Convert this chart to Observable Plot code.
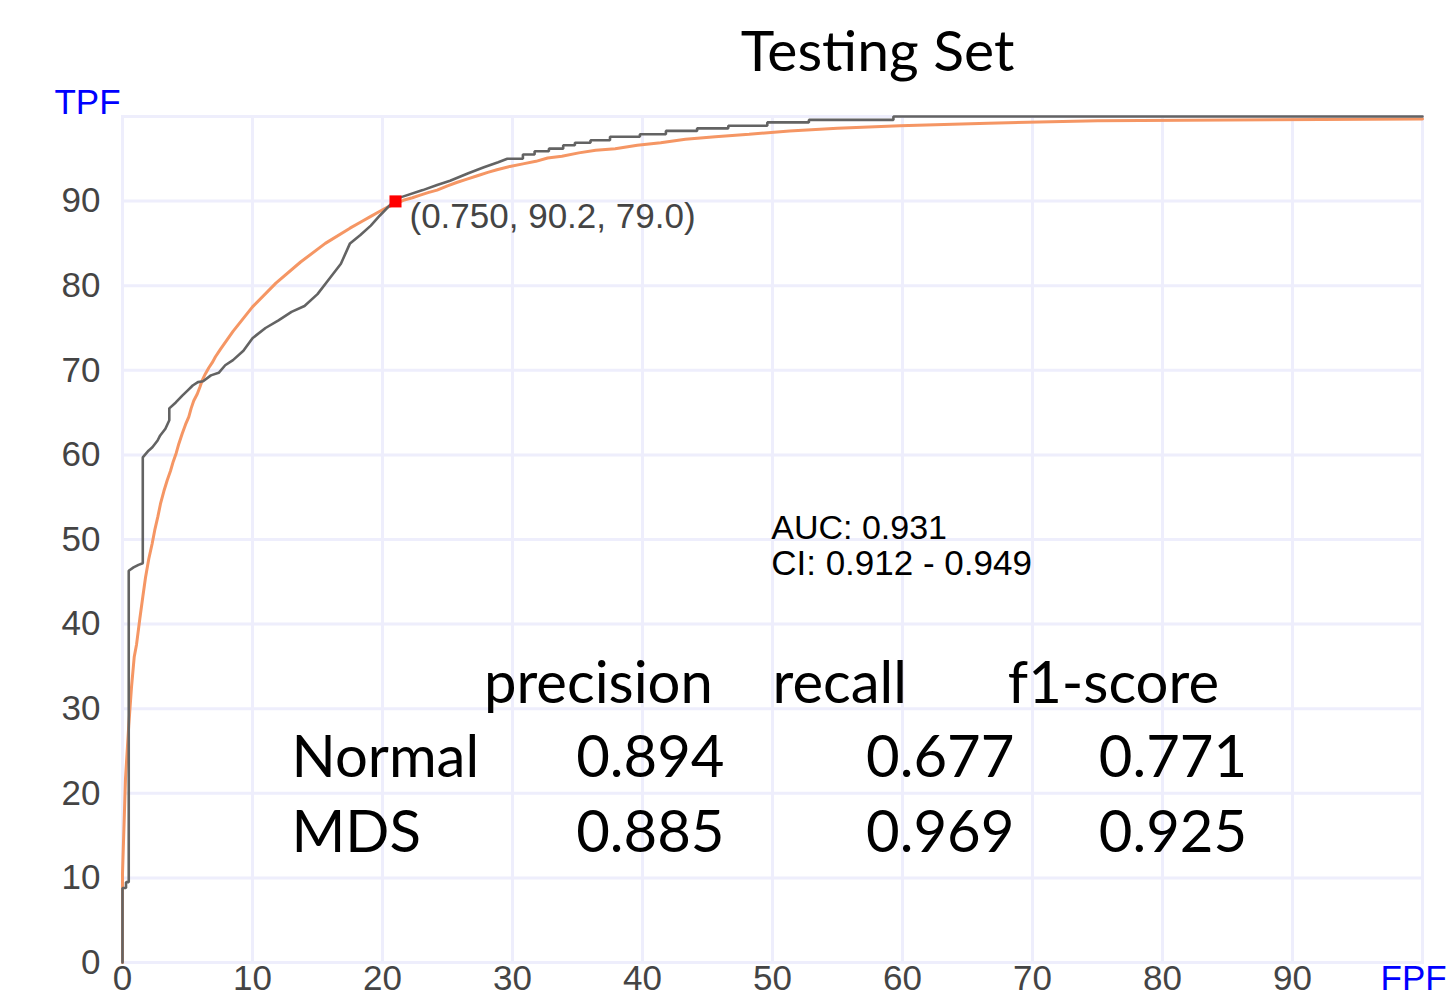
<!DOCTYPE html>
<html><head><meta charset="utf-8">
<script src="https://cdn.jsdelivr.net/npm/d3@7"></script>
<script src="https://cdn.jsdelivr.net/npm/@observablehq/plot@0.6"></script>
<style>body{margin:0;background:#fff;} #chart svg{display:block;overflow:hidden}</style>
</head><body><div id="chart"></div>
<script>
// ---- data ----
const title = "Testing Set";
const xTicks = [0, 10, 20, 30, 40, 50, 60, 70, 80, 90];
const yTicks = [0, 10, 20, 30, 40, 50, 60, 70, 80, 90];
const gridTicks = [10, 20, 30, 40, 50, 60, 70, 80, 90];
const xAxisName = "FPF";
const yAxisName = "TPF";

// empirical ROC (FPF %, TPF %)
const empiricalROC = [
  [0,0],[0,8.8],[0.27,8.8],[0.27,9.5],[0.48,9.5],[0.48,46.3],[0.85,46.7],[1.23,47.0],[1.56,47.2],
  [1.56,59.7],[2.0,60.5],[2.3,60.9],[2.7,61.7],[2.9,62.3],[3.3,63.1],[3.6,64.1],[3.6,65.5],
  [4.1,66.2],[4.6,67.0],[5.0,67.6],[5.4,68.2],[5.8,68.6],[6.2,68.7],[6.8,69.4],[7.4,69.7],
  [7.9,70.6],[8.5,71.2],[9.3,72.3],[10,73.8],[11,75.0],[12,75.9],[13,76.9],[14,77.6],
  [15,79.0],[16,81.0],[16.8,82.6],[17.5,85.0],[18.3,86.0],[19.1,87.1],[19.8,88.3],[21.0,90.2],
  [21.5,90.5],[23.1,91.3],[24.2,91.9],[25.2,92.4],[26.6,93.3],[27.8,94.0],[28.9,94.6],[29.6,95.0],
  [30.8,95.0],[30.8,95.5],[31.7,95.5],[31.7,95.9],[32.8,95.9],[32.8,96.2],[33.9,96.2],[33.9,96.6],
  [34.8,96.6],[34.8,96.9],[36.0,96.9],[36.0,97.2],[37.5,97.2],[37.5,97.6],[39.8,97.6],[39.8,97.9],
  [41.8,97.9],[41.8,98.3],[44.2,98.3],[44.2,98.6],[46.6,98.6],[46.6,98.9],[49.6,98.9],[49.6,99.3],
  [52.8,99.3],[52.8,99.6],[59.3,99.6],[59.3,100],[100,100]
];

// fitted (smooth) ROC (FPF %, TPF %)
const fittedROC = [
  [0,0],[0,10.5],[0.23,21.7],[0.48,28.0],[0.69,32.5],[0.9,36.1],[1.08,37.6],[1.33,40.6],[1.56,43.2],
  [1.77,45.5],[2.02,47.7],[2.28,49.5],[2.48,51.1],[2.72,52.7],[2.92,54.2],[3.18,55.7],[3.44,57.0],
  [3.69,58.1],[3.9,59.2],[4.13,60.2],[4.33,61.3],[4.59,62.5],[4.85,63.6],[5.1,64.5],[5.28,65.5],
  [5.48,66.4],[5.75,67.2],[5.95,68.0],[6.13,68.8],[6.38,69.6],[6.64,70.3],[6.9,70.9],[7.15,71.6],
  [7.54,72.5],[8.5,74.6],[10,77.5],[11.8,80.3],[13.7,82.8],[15.6,85.0],[17.5,86.8],[18.3,87.5],
  [19.1,88.2],[19.8,88.8],[20.4,89.3],[21.6,90.1],[22.3,90.4],[22.9,90.7],[23.5,91.0],[24.2,91.3],
  [25.0,91.8],[25.7,92.2],[26.5,92.6],[27.3,93.0],[28.1,93.4],[28.8,93.7],[29.8,94.1],[30.8,94.4],
  [31.8,94.7],[32.7,95.1],[33.8,95.3],[35.1,95.7],[36.4,96.0],[37.9,96.2],[39.6,96.6],[41.4,96.9],
  [43.3,97.3],[45.6,97.6],[48.2,97.9],[51.3,98.3],[55.0,98.6],[59.8,98.9],[66.6,99.2],[75,99.5],
  [85,99.6],[100,99.7]
];

const operatingPoint = [{threshold: 0.750, tpf: 90.2, specificity: 79.0}];
const aucValue = 0.931;
const ciLow = 0.912;
const ciHigh = 0.949;

const metricHeaders = ["precision", "recall", "f1-score"];
const classNames = ["Normal", "MDS"];
const precision = [0.894, 0.885];
const recall = [0.677, 0.969];
const f1Score = [0.771, 0.925];

// ---- chart ----
const gridColor = "#eeeefc";
const tickFont = "'Liberation Sans', Arial, sans-serif";
const bigFont = "Lato, 'Open Sans', sans-serif";

const headerX = [27.8, 50.0, 68.1];
const valueX = [34.9, 57.2, 75.1];
const rowY = [24.1, 15.2];
const headerY = 32.9;

const headerCells = metricHeaders.map((h, j) => ({text: h, x: headerX[j], y: headerY}));
const labelCells = classNames.map((c, i) => ({text: c, x: 13.0, y: rowY[i]}));
const valueCells = classNames.flatMap((c, i) =>
  [precision[i], recall[i], f1Score[i]].map((v, j) => ({text: v.toFixed(3), x: valueX[j], y: rowY[i]})));

const chart = Plot.plot({
  width: 1447,
  height: 1000,
  marginLeft: 122,
  marginRight: 25,
  marginTop: 116,
  marginBottom: 38,
  x: {domain: [0, 100]},
  y: {domain: [0, 100]},
  style: {background: "#fff"},
  marks: [
    Plot.gridX(gridTicks, {stroke: gridColor, strokeOpacity: 1, strokeWidth: 3}),
    Plot.gridY(gridTicks, {stroke: gridColor, strokeOpacity: 1, strokeWidth: 3}),
    Plot.frame({stroke: gridColor, strokeOpacity: 1, strokeWidth: 3}),
    Plot.axisX(xTicks, {tickSize: 0, tickPadding: 3, fontSize: 35, fill: "#444", fontFamily: tickFont, label: null}),
    Plot.axisY(yTicks, {tickSize: 0, tickPadding: 22, fontSize: 35, fill: "#444", fontFamily: tickFont, label: null}),
    Plot.text([yAxisName], {frameAnchor: "top-left", dx: -35, dy: -14, lineAnchor: "middle", textAnchor: "middle", fill: "#0000ff", fontSize: 35, fontFamily: tickFont}),
    Plot.text([xAxisName], {frameAnchor: "bottom-right", dx: -42, dy: 16, lineAnchor: "middle", textAnchor: "start", fill: "#0000ff", fontSize: 35, fontFamily: tickFont}),
    Plot.text([title], {frameAnchor: "top", dx: 105, dy: -64, lineAnchor: "middle", textAnchor: "middle", fill: "#000", fontSize: 57, fontFamily: bigFont}),
    Plot.line(fittedROC, {x: d => d[0], y: d => d[1], stroke: "#f59664", strokeWidth: 3, strokeLinejoin: "miter"}),
    Plot.line(empiricalROC, {x: d => d[0], y: d => d[1], stroke: "#636363", strokeWidth: 2.6, strokeLinejoin: "miter"}),
    Plot.dot(operatingPoint, {x: d => 100 - d.specificity, y: d => d.tpf, symbol: "square", r: 6.8, dy: 2, fill: "#ff0000", stroke: null}),
    Plot.text(operatingPoint, {x: d => 100 - d.specificity, y: d => d.tpf, text: d => `(${d.threshold.toFixed(3)}, ${d.tpf.toFixed(1)}, ${d.specificity.toFixed(1)})`, dx: 14, dy: 29, textAnchor: "start", lineAnchor: "bottom", fill: "#444", fontSize: 35, fontFamily: tickFont}),
    Plot.text([`AUC: ${aucValue.toFixed(3)}`], {x: 49.9, y: 51.4, textAnchor: "start", lineAnchor: "middle", fill: "#000", fontSize: 34, fontFamily: tickFont}),
    Plot.text([`CI: ${ciLow.toFixed(3)} - ${ciHigh.toFixed(3)}`], {x: 49.9, y: 47.1, textAnchor: "start", lineAnchor: "middle", fill: "#000", fontSize: 35, fontFamily: tickFont}),
    Plot.text(headerCells, {x: "x", y: "y", text: "text", textAnchor: "start", lineAnchor: "middle", fill: "#000", fontSize: 58, fontFamily: bigFont}),
    Plot.text(labelCells, {x: "x", y: "y", text: "text", textAnchor: "start", lineAnchor: "middle", fill: "#000", fontSize: 58, fontFamily: bigFont}),
    Plot.text(valueCells, {x: "x", y: "y", text: "text", textAnchor: "start", lineAnchor: "middle", fill: "#000", fontSize: 58, fontFamily: bigFont})
  ]
});
document.getElementById("chart").appendChild(chart);
</script>
</body></html>
